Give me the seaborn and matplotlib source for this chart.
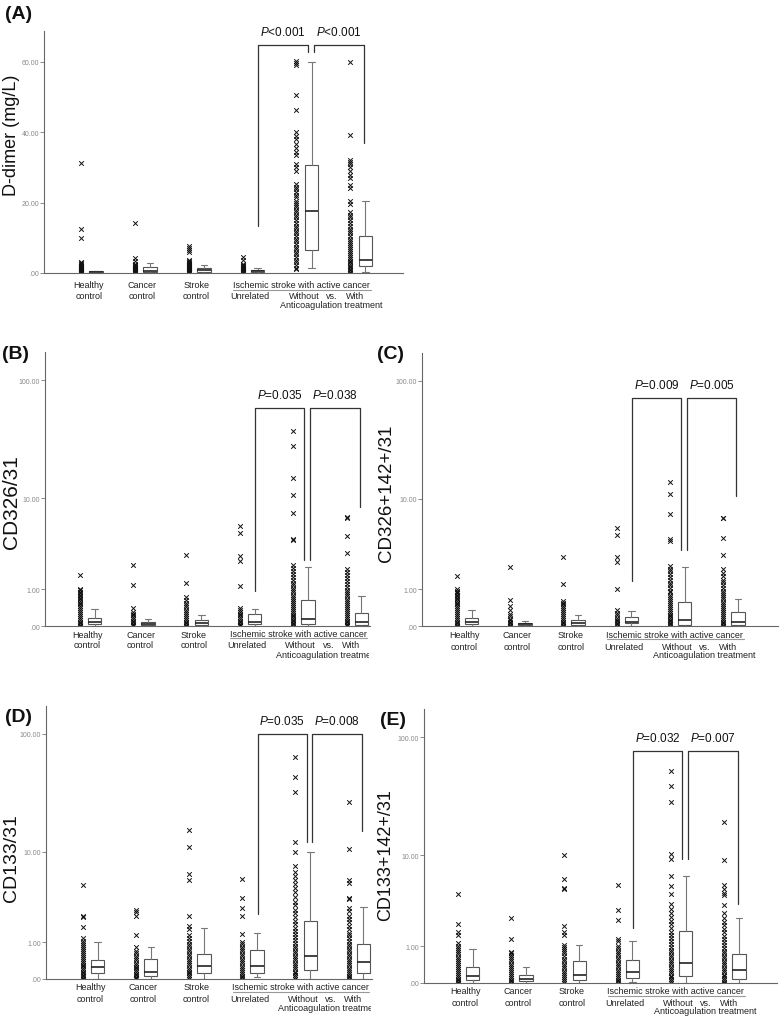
import numpy as np
import pandas as pd
import matplotlib
matplotlib.use("Agg")
import matplotlib.pyplot as plt
import seaborn as sns
from matplotlib.transforms import Bbox, TransformedBbox

sns.set_style("white")
plt.rcParams["font.family"] = ["Liberation Sans", "DejaVu Sans"]
plt.rcParams["mathtext.fontset"] = "custom"
plt.rcParams["mathtext.rm"] = "Liberation Sans"
plt.rcParams["mathtext.it"] = "Liberation Sans:italic"

# ---- data ----
# each group: all observations (x marks) + box stats (low whisker, q1, median, q3, high whisker)
A_pts = [
    [31.2, 12.4, 10.0, 3.2, 2.9, 2.6, 2.3, 2.1, 1.9, 1.7, 1.5, 1.3, 1.1, 0.9, 0.8, 0.7, 0.6, 0.5, 0.4, 0.3, 0.2, 0.1, 0.05],
    [14.3, 4.3, 3.5, 2.6, 2.4, 2.2, 2.0, 1.8, 1.6, 1.4, 1.2, 1.0, 0.8, 0.6, 0.5, 0.4, 0.3, 0.2, 0.1],
    [7.6, 7.0, 6.4, 5.9, 3.6, 3.3, 3.0, 2.8, 2.6, 2.4, 2.2, 2.0, 1.8, 1.6, 1.4, 1.2, 1.0, 0.8, 0.6, 0.5, 0.4, 0.3, 0.2, 0.1],
    [4.6, 3.8, 2.7, 2.4, 2.1, 1.9, 1.7, 1.5, 1.3, 1.1, 0.9, 0.7, 0.5, 0.4, 0.3, 0.2, 0.1],
    [60.2, 59.6, 59.0, 50.5, 46.4, 40.0, 39.0, 38.0, 36.8, 35.5, 34.5, 33.5, 31.0, 30.0, 29.0, 25.3, 24.5,
     23.8, 23.0, 22.3, 21.5, 20.5, 20.0, 19.4, 18.8, 18.0, 17.3, 16.5, 15.8, 15.0, 14.3, 13.5, 12.8, 12.0,
     11.3, 10.5, 9.8, 9.0, 8.3, 7.5, 6.8, 6.0, 5.3, 4.5, 3.8, 3.0, 2.3, 1.5, 1.2],
    [60.0, 39.1, 32.0, 31.5, 31.0, 30.0, 29.0, 28.0, 27.0, 25.0, 24.3, 20.5, 19.5, 17.3, 16.5, 15.8, 15.0,
     14.2, 13.5, 12.5, 12.0, 11.3, 10.5, 9.8, 9.2, 8.6, 8.0, 7.4, 6.8, 6.2, 5.6, 5.0, 4.5, 4.0, 3.5, 3.0,
     2.5, 2.0, 1.6, 1.2, 0.8, 0.4, 0.1],
]
A_box = [[0, 0.1, 0.25, 0.45, 0.6], [0, 0.2, 0.7, 1.7, 2.8], [0, 0.3, 0.8, 1.4, 2.4],
         [0, 0.2, 0.5, 0.9, 1.3], [1.3, 6.4, 17.5, 30.7, 60.0], [0.2, 2.1, 3.7, 10.4, 20.6]]

B_pts = [
    [1.59, 1.0, 0.95, 0.9, 0.85, 0.8, 0.75, 0.7, 0.65, 0.6, 0.55, 0.5, 0.45, 0.4, 0.35, 0.3, 0.25, 0.2, 0.16, 0.12, 0.08, 0.05, 0.02, 0.0],
    [2.13, 1.15, 0.39, 0.3, 0.26, 0.22, 0.18, 0.14, 0.1, 0.07, 0.04, 0.02, 0.0],
    [2.78, 1.25, 0.73, 0.62, 0.55, 0.48, 0.42, 0.36, 0.3, 0.25, 0.2, 0.16, 0.12, 0.08, 0.05, 0.02, 0.0],
    [5.57, 4.69, 2.73, 2.38, 1.11, 0.39, 0.34, 0.3, 0.26, 0.22, 0.18, 0.14, 0.1, 0.07, 0.04, 0.02, 0.0],
    [37.5, 28.4, 15.0, 10.6, 7.3, 4.1, 4.0, 2.13, 1.95, 1.8, 1.65, 1.5, 1.38, 1.26, 1.15, 1.05, 0.95, 0.88,
     0.8, 0.73, 0.66, 0.6, 0.54, 0.48, 0.43, 0.38, 0.33, 0.28, 0.24, 0.2, 0.16, 0.12, 0.09, 0.06, 0.03, 0.0],
    [6.7, 6.6, 4.44, 2.9, 1.94, 1.75, 1.6, 1.45, 1.32, 1.2, 1.08, 0.98, 0.9, 0.82, 0.74, 0.67, 0.6, 0.54,
     0.48, 0.42, 0.37, 0.32, 0.27, 0.22, 0.18, 0.14, 0.1, 0.07, 0.04, 0.02, 0.0],
]
B_box = [[0, 0.03, 0.07, 0.17, 0.37], [0, 0.01, 0.04, 0.07, 0.13], [0, 0.02, 0.06, 0.11, 0.24],
         [0, 0.04, 0.07, 0.25, 0.37], [0, 0.04, 0.13, 0.62, 2.04], [0, 0.025, 0.07, 0.28, 0.76]]

C_pts = [
    [1.55, 1.0, 0.95, 0.9, 0.85, 0.8, 0.75, 0.7, 0.65, 0.6, 0.55, 0.5, 0.45, 0.4, 0.35, 0.3, 0.25, 0.2, 0.16, 0.12, 0.08, 0.05, 0.02, 0.0],
    [2.03, 0.62, 0.45, 0.34, 0.26, 0.2, 0.15, 0.11, 0.08, 0.05, 0.02, 0.0],
    [2.66, 1.22, 0.6, 0.55, 0.5, 0.45, 0.4, 0.35, 0.3, 0.25, 0.2, 0.16, 0.12, 0.08, 0.05, 0.02, 0.0],
    [5.3, 4.6, 2.66, 2.33, 1.0, 0.34, 0.28, 0.22, 0.17, 0.13, 0.09, 0.06, 0.03, 0.0],
    [14.0, 11.1, 7.3, 4.1, 4.0, 2.1, 1.95, 1.8, 1.65, 1.5, 1.38, 1.26, 1.15, 1.05, 0.95, 0.88, 0.8, 0.73,
     0.66, 0.6, 0.54, 0.48, 0.43, 0.38, 0.33, 0.28, 0.24, 0.2, 0.16, 0.12, 0.09, 0.06, 0.03, 0.0],
    [6.7, 6.6, 4.24, 2.78, 1.91, 1.7, 1.55, 1.4, 1.28, 1.16, 1.05, 0.95, 0.87, 0.79, 0.72, 0.65, 0.58, 0.52,
     0.46, 0.4, 0.35, 0.3, 0.25, 0.2, 0.16, 0.12, 0.08, 0.05, 0.02, 0.0],
]
C_box = [[0, 0.03, 0.07, 0.17, 0.36], [0, 0.01, 0.04, 0.06, 0.1], [0, 0.02, 0.05, 0.11, 0.24],
         [0, 0.05, 0.07, 0.18, 0.33], [0, 0.02, 0.13, 0.57, 2.02], [0, 0.02, 0.07, 0.3, 0.67]]

D_pts = [
    [4.84, 2.25, 2.2, 1.64, 1.15, 1.05, 0.98, 0.9, 0.83, 0.76, 0.7, 0.64, 0.58, 0.52, 0.46, 0.41, 0.36, 0.31,
     0.27, 0.23, 0.19, 0.15, 0.11, 0.08, 0.05, 0.02, 0.0],
    [2.67, 2.5, 2.28, 1.28, 0.83, 0.7, 0.62, 0.55, 0.48, 0.42, 0.36, 0.31, 0.26, 0.22, 0.18, 0.14, 0.1, 0.07, 0.04, 0.02, 0.0],
    [15.7, 11.0, 6.27, 5.41, 2.28, 1.72, 1.55, 1.3, 1.15, 1.05, 0.95, 0.85, 0.76, 0.68, 0.6, 0.53, 0.46, 0.4,
     0.34, 0.29, 0.24, 0.19, 0.15, 0.11, 0.07, 0.04, 0.0],
    [5.53, 3.63, 2.79, 2.28, 1.33, 1.0, 0.92, 0.84, 0.76, 0.68, 0.6, 0.53, 0.46, 0.4, 0.34, 0.28, 0.23, 0.18,
     0.14, 0.1, 0.06, 0.03, 0.0],
    [64.0, 43.6, 32.7, 12.2, 9.9, 7.4, 6.5, 6.0, 5.5, 5.0, 4.5, 4.1, 3.7, 3.3, 3.0, 2.7, 2.45, 2.2, 2.0, 1.8,
     1.62, 1.46, 1.32, 1.2, 1.08, 0.97, 0.87, 0.78, 0.7, 0.62, 0.55, 0.48, 0.42, 0.36, 0.3, 0.25, 0.2, 0.15,
     0.11, 0.07, 0.03, 0.0],
    [26.9, 10.6, 5.5, 5.1, 3.6, 3.5, 2.8, 2.6, 2.3, 2.1, 1.9, 1.7, 1.55, 1.4, 1.27, 1.15, 1.05, 0.95, 0.86,
     0.77, 0.69, 0.61, 0.54, 0.47, 0.41, 0.35, 0.29, 0.24, 0.19, 0.14, 0.1, 0.06, 0.03, 0.0],
]
D_box = [[0, 0.11, 0.26, 0.42, 1.02], [0, 0.05, 0.15, 0.45, 0.83], [0, 0.11, 0.28, 0.59, 1.59],
         [0.03, 0.13, 0.28, 0.72, 1.36], [0, 0.19, 0.55, 1.97, 9.9], [0, 0.13, 0.37, 0.95, 2.89]]

E_pts = [
    [4.32, 2.04, 1.6, 1.44, 1.1, 1.0, 0.92, 0.85, 0.78, 0.71, 0.64, 0.58, 0.52, 0.46, 0.4, 0.35, 0.3, 0.25,
     0.2, 0.16, 0.12, 0.08, 0.05, 0.02, 0.0],
    [2.38, 1.29, 0.8, 0.74, 0.68, 0.62, 0.56, 0.5, 0.44, 0.38, 0.33, 0.28, 0.23, 0.18, 0.14, 0.1, 0.06, 0.03, 0.0],
    [10.05, 6.05, 5.0, 4.8, 1.9, 1.6, 1.45, 1.05, 0.98, 0.9, 0.82, 0.74, 0.66, 0.58, 0.51, 0.44, 0.38, 0.32,
     0.26, 0.21, 0.16, 0.12, 0.08, 0.04, 0.0],
    [5.3, 2.9, 2.24, 1.3, 1.2, 1.0, 0.92, 0.84, 0.76, 0.68, 0.6, 0.53, 0.46, 0.4, 0.34, 0.28, 0.23, 0.18,
     0.14, 0.1, 0.06, 0.03, 0.0],
    [52.6, 39.4, 28.6, 10.3, 9.3, 6.4, 5.2, 4.3, 3.4, 3.0, 2.7, 2.45, 2.2, 2.0, 1.8, 1.62, 1.46, 1.32, 1.2,
     1.08, 0.97, 0.87, 0.78, 0.7, 0.62, 0.55, 0.48, 0.42, 0.36, 0.3, 0.25, 0.2, 0.15, 0.11, 0.07, 0.03, 0.0],
    [19.6, 9.07, 5.3, 4.8, 4.4, 4.2, 3.3, 2.7, 2.4, 2.15, 1.95, 1.75, 1.58, 1.42, 1.28, 1.15, 1.04, 0.94,
     0.84, 0.75, 0.67, 0.59, 0.52, 0.45, 0.39, 0.33, 0.27, 0.22, 0.17, 0.13, 0.09, 0.05, 0.02, 0.0],
]
E_box = [[0, 0.05, 0.14, 0.35, 0.88], [0, 0.04, 0.085, 0.17, 0.35], [0, 0.06, 0.17, 0.5, 1.04],
         [0.01, 0.1, 0.23, 0.55, 1.22], [0, 0.14, 0.46, 1.63, 6.4], [0, 0.085, 0.27, 0.73, 2.38]]

# p values and bracket heights: [top, left leg end, middle legs end, right leg end]
A_p = ["<0.001", "<0.001"]
B_p = ["=0.035", "=0.038"]
C_p = ["=0.009", "=0.005"]
D_p = ["=0.035", "=0.008"]
E_p = ["=0.032", "=0.007"]
A_br = [64.8, 13.4, 62.8, 37.0]
B_br = [58.4, 0.93, 2.47, 8.4]
C_br = [72.2, 1.33, 3.2, 10.6]
D_br = [100.0, 2.39, 12.1, 15.1]
E_br = [76.4, 1.8, 9.2, 3.39]

ylabels = ["D-dimer (mg/L)", "CD326/31", "CD326+142+/31", "CD133/31", "CD133+142+/31"]
lin_ticks = [0, 20, 40, 60]
lin_ticklabels = [".00", "20.00", "40.00", "60.00"]
log_ticks = [0, 1, 10, 100]
log_ticklabels = [".00", "1.00", "10.00", "100.00"]

W, H = 782, 1020
fig = plt.figure(figsize=(W / 100, H / 100), dpi=100)


def px_rect(l, t, r, b):
    return [l / W, 1 - b / H, (r - l) / W, (b - t) / H]


def fwd(y):
    return np.log10(1 + np.clip(y, 0, None))


def inv(y):
    return 10 ** np.asarray(y) - 1


panels = [
    dict(tag="(A)", pts=A_pts, box=A_box, p=A_p, br=A_br, ylab=ylabels[0], rect=(44, 32, 403, 274),
         xlim=(-0.83, 5.84), log=False, ylab_xy=(12, 135), ylab_fs=13, tag_xy=(5, 6),
         off=[12, 23, 11.5, 16.5, 23, 32], clip=None),
    dict(tag="(B)", pts=B_pts, box=B_box, p=B_p, br=B_br, ylab=ylabels[1], rect=(45, 353, 370, 627),
         xlim=(-0.79, 5.30), log=True, ylab_xy=(12, 502), ylab_fs=15, tag_xy=(2, 346),
         off=[8, 19, 7.5, 12, 19, 28], clip=369),
    dict(tag="(C)", pts=C_pts, box=C_box, p=C_p, br=C_br, ylab=ylabels[2], rect=(422, 354, 778, 627),
         xlim=(-0.79, 5.89), log=True, ylab_xy=(386, 493), ylab_fs=13.5, tag_xy=(377, 346),
         off=[9, 20, 8, 12.5, 20, 29], clip=None),
    dict(tag="(D)", pts=D_pts, box=D_box, p=D_p, br=D_br, ylab=ylabels[3], rect=(46, 707, 372, 980),
         xlim=(-0.83, 5.30), log=True, ylab_xy=(12, 858), ylab_fs=14, tag_xy=(5, 709),
         off=[8, 20, 8, 12.5, 20, 29], clip=371),
    dict(tag="(E)", pts=E_pts, box=E_box, p=E_p, br=E_br, ylab=ylabels[4], rect=(424, 710, 777, 984),
         xlim=(-0.77, 5.85), log=True, ylab_xy=(386, 855), ylab_fs=13, tag_xy=(380, 712),
         off=[8, 20, 8, 12.5, 20, 28], clip=None),
]

SCAT_DX, BOX_DX = -0.14, 0.14
BR_X = [3.15, 4.07, 4.18, 5.11]
LABEL_FS = 6.5

for pn in panels:
    ax = fig.add_axes(px_rect(*pn["rect"]))
    ax_h = pn["rect"][3] - pn["rect"][1]

    df = pd.DataFrame([(g + SCAT_DX, v) for g, vals in enumerate(pn["pts"]) for v in vals], columns=["x", "y"])

    if pn["log"]:
        ax.set_yscale("function", functions=(fwd, inv))
        ax.set_ylim(0, 170)
        ax.set_yticks(log_ticks)
        ax.set_yticklabels(log_ticklabels)
    else:
        ax.set_ylim(0, 68.8)
        ax.set_yticks(lin_ticks)
        ax.set_yticklabels(lin_ticklabels)

    sns.scatterplot(data=df, x="x", y="y", marker="x", color="#111111", s=11, linewidth=0.7,
                    ax=ax, legend=False)

    stats = [dict(whislo=b[0], q1=b[1], med=b[2], q3=b[3], whishi=b[4], fliers=[]) for b in pn["box"]]
    ax.bxp(stats, positions=np.arange(6) + BOX_DX, widths=0.25, capwidths=0.12, showfliers=False,
           patch_artist=True, manage_ticks=False,
           boxprops=dict(facecolor="white", edgecolor="#555555", linewidth=0.8),
           medianprops=dict(color="#222222", linewidth=1.2),
           whiskerprops=dict(color="#777777", linewidth=0.8),
           capprops=dict(color="#777777", linewidth=0.8))

    ax.set_xlim(*pn["xlim"])
    ax.set_xticks([])
    ax.set_xlabel("")
    ax.set_ylabel("")
    for s in ["top", "right"]:
        ax.spines[s].set_visible(False)
    for s in ["left", "bottom"]:
        ax.spines[s].set_color("#666666")
        ax.spines[s].set_linewidth(0.8)
    ax.tick_params(axis="y", direction="out", length=3, width=0.6, color="#777777",
                   labelsize=5, labelcolor="#888888", pad=0.5, left=True)

    # significance brackets
    top, e_left, e_mid, e_right = pn["br"]
    ax.plot([BR_X[0], BR_X[0], BR_X[1], BR_X[1]], [e_left, top, top, e_mid], color="#333333", lw=0.9)
    ax.plot([BR_X[2], BR_X[2], BR_X[3], BR_X[3]], [e_mid, top, top, e_right], color="#333333", lw=0.9)
    for (xa, xb), ptxt in zip([(BR_X[0], BR_X[1]), (BR_X[2], BR_X[3])], pn["p"]):
        ax.annotate("$P$" + ptxt, xy=((xa + xb) / 2, top), xytext=(0, 10), textcoords="offset points",
                    ha="center", va="center", fontsize=8.5, color="#111111")

    # category labels under the axis
    o = [v * 0.72 for v in pn["off"]]
    texts = []
    for g, (l1, l2) in enumerate([("Healthy", "control"), ("Cancer", "control"), ("Stroke", "control")]):
        for line, dy in [(l1, o[0]), (l2, o[1])]:
            texts.append((g, line, dy))
    texts += [(3.95, "Ischemic stroke with active cancer", o[2]), (3.0, "Unrelated", o[4]),
              (4.0, "Without", o[4]), (4.52, "vs.", o[4]), (4.95, "With", o[4]),
              (4.5, "Anticoagulation treatment", o[5])]
    cbox = None
    if pn["clip"] is not None:
        cbox = TransformedBbox(Bbox.from_extents(0, 0, pn["clip"] / W, 1), fig.transFigure)
    for gx, s, dy in texts:
        t = ax.annotate(s, xy=(gx, 0), xycoords=("data", "axes fraction"), xytext=(0, -dy),
                        textcoords="offset points", ha="center", va="center", fontsize=LABEL_FS,
                        color="#222222", annotation_clip=False)
        if cbox is not None:
            t.set_clip_on(True)
            t.set_clip_box(cbox)
    uy = -pn["off"][3] / ax_h
    xr = min(5.25, pn["xlim"][1])
    ax.plot([2.68, xr], [uy, uy], transform=ax.get_xaxis_transform(), color="#999999", lw=0.8, clip_on=False)

    fig.text(pn["ylab_xy"][0] / W, 1 - pn["ylab_xy"][1] / H, pn["ylab"], rotation=90, ha="center",
             va="center", fontsize=pn["ylab_fs"], color="#111111")
    fig.text(pn["tag_xy"][0] / W, 1 - pn["tag_xy"][1] / H, pn["tag"], ha="left", va="top",
             fontsize=14, fontweight="bold", color="#111111")

fig.savefig("out.png", dpi=100)
